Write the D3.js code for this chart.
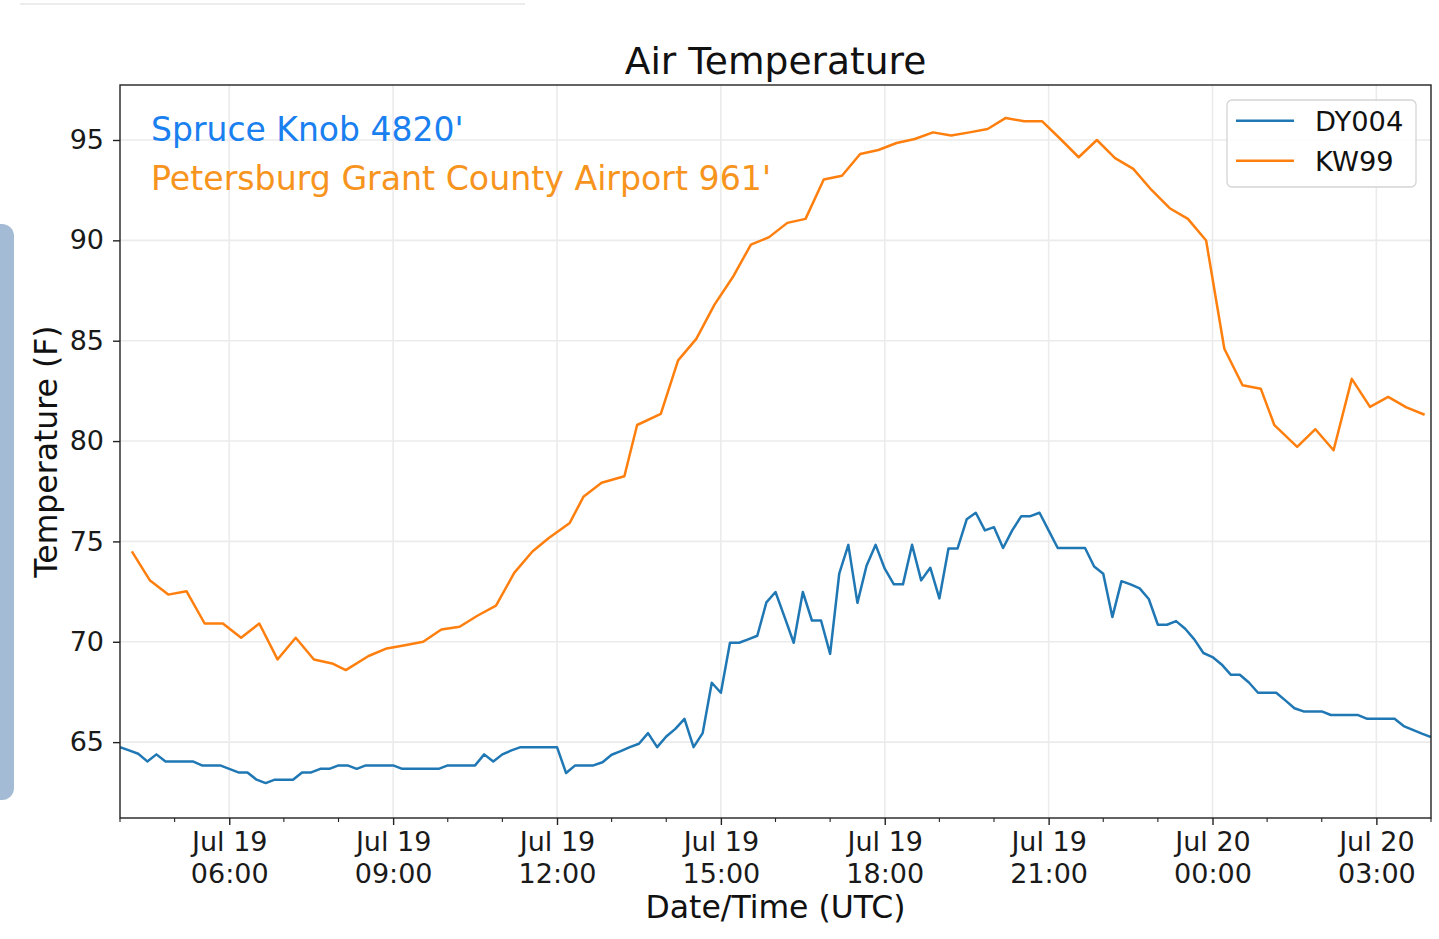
<!DOCTYPE html>
<html>
<head>
<meta charset="utf-8">
<script src="https://cdn.jsdelivr.net/npm/d3@7"></script>
<style>
  html, body { margin: 0; padding: 0; background: #ffffff; }
  svg { display: block; }
  text { font-family: "DejaVu Sans", sans-serif; }
</style>
</head>
<body>
<svg id="chart" width="1439" height="939"></svg>
<script>
// ---------------- DATA ----------------
const chartTitle = "Air Temperature";
const xLabel = "Date/Time (UTC)";
const yLabel = "Temperature (F)";
const seriesNames = ["DY004", "KW99"];
const annotations = ["Spruce Knob 4820'", "Petersburg Grant County Airport 961'"];

// DY004 (Spruce Knob) – every 10 minutes from 04:00 UTC Jul 19
const dyStart = "2019-07-19T04:00:00Z";
const dyStepMinutes = 10;
const dyTemps = [
  64.75, 64.59, 64.42, 64.04, 64.39, 64.04, 64.04, 64.04, 64.04, 63.84,
  63.84, 63.84, 63.67, 63.49, 63.49, 63.13, 62.96, 63.13, 63.13, 63.13,
  63.49, 63.49, 63.67, 63.67, 63.84, 63.84, 63.67, 63.84, 63.84, 63.84,
  63.84, 63.67, 63.67, 63.67, 63.67, 63.67, 63.84, 63.84, 63.84, 63.84,
  64.39, 64.04, 64.39, 64.59, 64.75, 64.75, 64.75, 64.75, 64.75, 63.46,
  63.84, 63.84, 63.84, 64.00, 64.37, 64.55, 64.75, 64.92, 65.45, 64.75,
  65.28, 65.66, 66.16, 64.75, 65.45, 67.96, 67.46, 69.95, 69.95, 70.12,
  70.30, 71.96, 72.48, 71.23, 69.95, 72.48, 71.06, 71.06, 69.40, 73.39,
  74.83, 71.94, 73.79, 74.83, 73.64, 72.86, 72.86, 74.83, 73.06, 73.69,
  72.16, 74.65, 74.65, 76.10, 76.43, 75.55, 75.71, 74.67, 75.55, 76.26,
  76.26, 76.43, 75.55, 74.67, 74.67, 74.67, 74.67, 73.75, 73.39, 71.23,
  73.02, 72.86, 72.66, 72.13, 70.85, 70.85, 71.03, 70.65, 70.12, 69.44,
  69.24, 68.87, 68.36, 68.36, 67.97, 67.46, 67.46, 67.46, 67.08, 66.69,
  66.53, 66.53, 66.53, 66.35, 66.35, 66.35, 66.35, 66.16, 66.16, 66.16,
  66.16, 65.80, 65.61, 65.42, 65.25
];

// KW99 (Petersburg Grant County Airport) – observation times and temps
const kwTimes = [
  "2019-07-19T04:13Z","2019-07-19T04:33Z","2019-07-19T04:53Z","2019-07-19T05:13Z",
  "2019-07-19T05:33Z","2019-07-19T05:53Z","2019-07-19T06:13Z","2019-07-19T06:33Z",
  "2019-07-19T06:53Z","2019-07-19T07:13Z","2019-07-19T07:33Z","2019-07-19T07:53Z",
  "2019-07-19T08:08Z","2019-07-19T08:33Z","2019-07-19T08:53Z","2019-07-19T09:13Z",
  "2019-07-19T09:33Z","2019-07-19T09:53Z","2019-07-19T10:13Z","2019-07-19T10:33Z",
  "2019-07-19T10:53Z","2019-07-19T11:13Z","2019-07-19T11:33Z","2019-07-19T11:51Z",
  "2019-07-19T12:14Z","2019-07-19T12:29Z","2019-07-19T12:49Z","2019-07-19T13:14Z",
  "2019-07-19T13:28Z","2019-07-19T13:54Z","2019-07-19T14:13Z","2019-07-19T14:33Z",
  "2019-07-19T14:53Z","2019-07-19T15:13Z","2019-07-19T15:33Z","2019-07-19T15:53Z",
  "2019-07-19T16:13Z","2019-07-19T16:33Z","2019-07-19T16:53Z","2019-07-19T17:13Z",
  "2019-07-19T17:33Z","2019-07-19T17:53Z","2019-07-19T18:13Z","2019-07-19T18:33Z",
  "2019-07-19T18:53Z","2019-07-19T19:13Z","2019-07-19T19:33Z","2019-07-19T19:53Z",
  "2019-07-19T20:13Z","2019-07-19T20:33Z","2019-07-19T20:53Z","2019-07-19T21:13Z",
  "2019-07-19T21:33Z","2019-07-19T21:53Z","2019-07-19T22:13Z","2019-07-19T22:33Z",
  "2019-07-19T22:53Z","2019-07-19T23:13Z","2019-07-19T23:33Z","2019-07-19T23:53Z",
  "2019-07-20T00:13Z","2019-07-20T00:33Z","2019-07-20T00:53Z","2019-07-20T01:08Z",
  "2019-07-20T01:33Z","2019-07-20T01:53Z","2019-07-20T02:13Z","2019-07-20T02:33Z",
  "2019-07-20T02:53Z","2019-07-20T03:13Z","2019-07-20T03:33Z","2019-07-20T03:53Z"
];
const kwTemps = [
  74.50, 73.05, 72.35, 72.52, 70.91, 70.91, 70.20, 70.91, 69.12, 70.20,
  69.12, 68.92, 68.59, 69.29, 69.67, 69.83, 70.00, 70.61, 70.75, 71.31,
  71.80, 73.43, 74.50, 75.17, 75.92, 77.22, 77.92, 78.25, 80.80, 81.35,
  84.02, 85.09, 86.80, 88.16, 89.79, 90.16, 90.87, 91.07, 93.03, 93.22,
  94.30, 94.50, 94.85, 95.05, 95.38, 95.22, 95.38, 95.55, 96.10, 95.93,
  95.93, 95.05, 94.14, 95.00, 94.10, 93.56, 92.51, 91.60, 91.07, 89.99,
  84.60, 82.78, 82.61, 80.79, 79.71, 80.59, 79.54, 83.10, 81.70, 82.20,
  81.68, 81.31
];

const yLimits = [61.22, 97.74];
const yTicks = [65, 70, 75, 80, 85, 90, 95];

// ---------------- DRAW ----------------
const svg = d3.select("#chart");
const margin = { left: 120, right: 1431, top: 85, bottom: 818 };
const W = margin.right - margin.left, H = margin.bottom - margin.top;

const colors = { blue: "#1f77b4", orange: "#ff7f0e" };

const parse = d3.isoParse;
const dyData = dyTemps.map((v, i) => ({ t: d3.utcMinute.offset(parse(dyStart), i * dyStepMinutes), v }));
const kwData = kwTimes.map((t, i) => ({ t: parse(t), v: kwTemps[i] }));

const x = d3.scaleUtc()
  .domain(d3.extent(dyData, d => d.t))
  .range([margin.left, margin.right]);
const y = d3.scaleLinear().domain(yLimits).range([margin.bottom, margin.top]);

// decorative screenshot frame pieces
svg.append("line").attr("x1", 20).attr("x2", 525).attr("y1", 4).attr("y2", 4)
  .attr("stroke", "#ececec").attr("stroke-width", 2);
svg.append("rect").attr("x", -16).attr("y", 224).attr("width", 30).attr("height", 576)
  .attr("rx", 12).attr("fill", "#a3bbd4");

const majorTicks = d3.utcHour.every(3).range(x.domain()[0], d3.utcMinute.offset(x.domain()[1], 1));
const minorTicks = d3.utcHour.every(1).range(x.domain()[0], d3.utcMinute.offset(x.domain()[1], 1));

// grid
const grid = svg.append("g");
grid.selectAll("line.gx").data(majorTicks).join("line")
  .attr("x1", d => x(d)).attr("x2", d => x(d))
  .attr("y1", margin.top).attr("y2", margin.bottom)
  .attr("stroke", "#ebebeb").attr("stroke-width", 1.6);
grid.selectAll("line.gy").data(yTicks).join("line")
  .attr("y1", d => y(d)).attr("y2", d => y(d))
  .attr("x1", margin.left).attr("x2", margin.right)
  .attr("stroke", "#ebebeb").attr("stroke-width", 1.6);

// clip
svg.append("clipPath").attr("id", "clip").append("rect")
  .attr("x", margin.left).attr("y", margin.top).attr("width", W).attr("height", H);

const line = d3.line().x(d => x(d.t)).y(d => y(d.v));
const plot = svg.append("g").attr("clip-path", "url(#clip)");
plot.append("path").datum(dyData).attr("d", line)
  .attr("fill", "none").attr("stroke", colors.blue).attr("stroke-width", 2.5)
  .attr("stroke-linejoin", "round");
plot.append("path").datum(kwData).attr("d", line)
  .attr("fill", "none").attr("stroke", colors.orange).attr("stroke-width", 2.5)
  .attr("stroke-linejoin", "round");

// spines
svg.append("rect").attr("x", margin.left).attr("y", margin.top)
  .attr("width", W).attr("height", H)
  .attr("fill", "none").attr("stroke", "#222").attr("stroke-width", 1.4);

// x axis
const xAxis = d3.axisBottom(x).tickValues(majorTicks).tickSize(7).tickPadding(6)
  .tickFormat(() => "");
const gx = svg.append("g").attr("transform", `translate(0,${margin.bottom})`).call(xAxis);
gx.select(".domain").remove();
gx.selectAll(".tick line").attr("stroke", "#222").attr("stroke-width", 1.4);
const fmtDay = d3.utcFormat("%b %d"), fmtTime = d3.utcFormat("%H:%M");
gx.selectAll(".tick text").remove();
gx.selectAll(".tick").append("text")
  .attr("fill", "#1a1a1a").attr("font-size", 27).attr("text-anchor", "middle")
  .each(function(d) {
    const t = d3.select(this);
    t.append("tspan").attr("x", 0).attr("y", 33).text(fmtDay(d));
    t.append("tspan").attr("x", 0).attr("y", 64.5).text(fmtTime(d));
  });
const minorOnly = minorTicks.filter(d => d.getUTCHours() % 3 !== 0);
svg.append("g").selectAll("line").data(minorOnly).join("line")
  .attr("x1", d => x(d)).attr("x2", d => x(d))
  .attr("y1", margin.bottom).attr("y2", margin.bottom + 4)
  .attr("stroke", "#222").attr("stroke-width", 1.1);

// y axis
const yAxis = d3.axisLeft(y).tickValues(yTicks).tickSize(7).tickPadding(9);
const gy = svg.append("g").attr("transform", `translate(${margin.left},0)`).call(yAxis);
gy.select(".domain").remove();
gy.selectAll(".tick line").attr("stroke", "#222").attr("stroke-width", 1.4);
gy.selectAll(".tick text").attr("font-size", 27).attr("fill", "#1a1a1a")
  .attr("font-family", "DejaVu Sans, sans-serif");

// labels
svg.append("text").attr("x", (margin.left + margin.right) / 2).attr("y", 74)
  .attr("text-anchor", "middle").attr("font-size", 37.6).attr("fill", "#111").text(chartTitle);
svg.append("text").attr("x", (margin.left + margin.right) / 2).attr("y", 918)
  .attr("text-anchor", "middle").attr("font-size", 31.5).attr("fill", "#111").text(xLabel);
svg.append("text").attr("transform", `translate(57,${(margin.top + margin.bottom) / 2}) rotate(-90)`)
  .attr("text-anchor", "middle").attr("font-size", 31.5).attr("fill", "#111").text(yLabel);

// annotations
svg.append("text").attr("x", 151).attr("y", 141).attr("font-size", 33)
  .attr("fill", "#1a80f0").text(annotations[0]);
svg.append("text").attr("x", 151).attr("y", 190).attr("font-size", 33.2)
  .attr("fill", "#f7941d").text(annotations[1]);

// legend
const lg = svg.append("g");
lg.append("rect").attr("x", 1227).attr("y", 100).attr("width", 189).attr("height", 87)
  .attr("rx", 5).attr("fill", "rgba(255,255,255,0.85)").attr("stroke", "#d4d4d4").attr("stroke-width", 1.3);
[colors.blue, colors.orange].forEach((c, i) => {
  const yy = 120.7 + i * 40;
  lg.append("line").attr("x1", 1236).attr("x2", 1294).attr("y1", yy).attr("y2", yy)
    .attr("stroke", c).attr("stroke-width", 2.5);
  lg.append("text").attr("x", 1315).attr("y", yy + 10).attr("font-size", 27.3)
    .attr("fill", "#111").text(seriesNames[i]);
});
</script>
</body>
</html>
